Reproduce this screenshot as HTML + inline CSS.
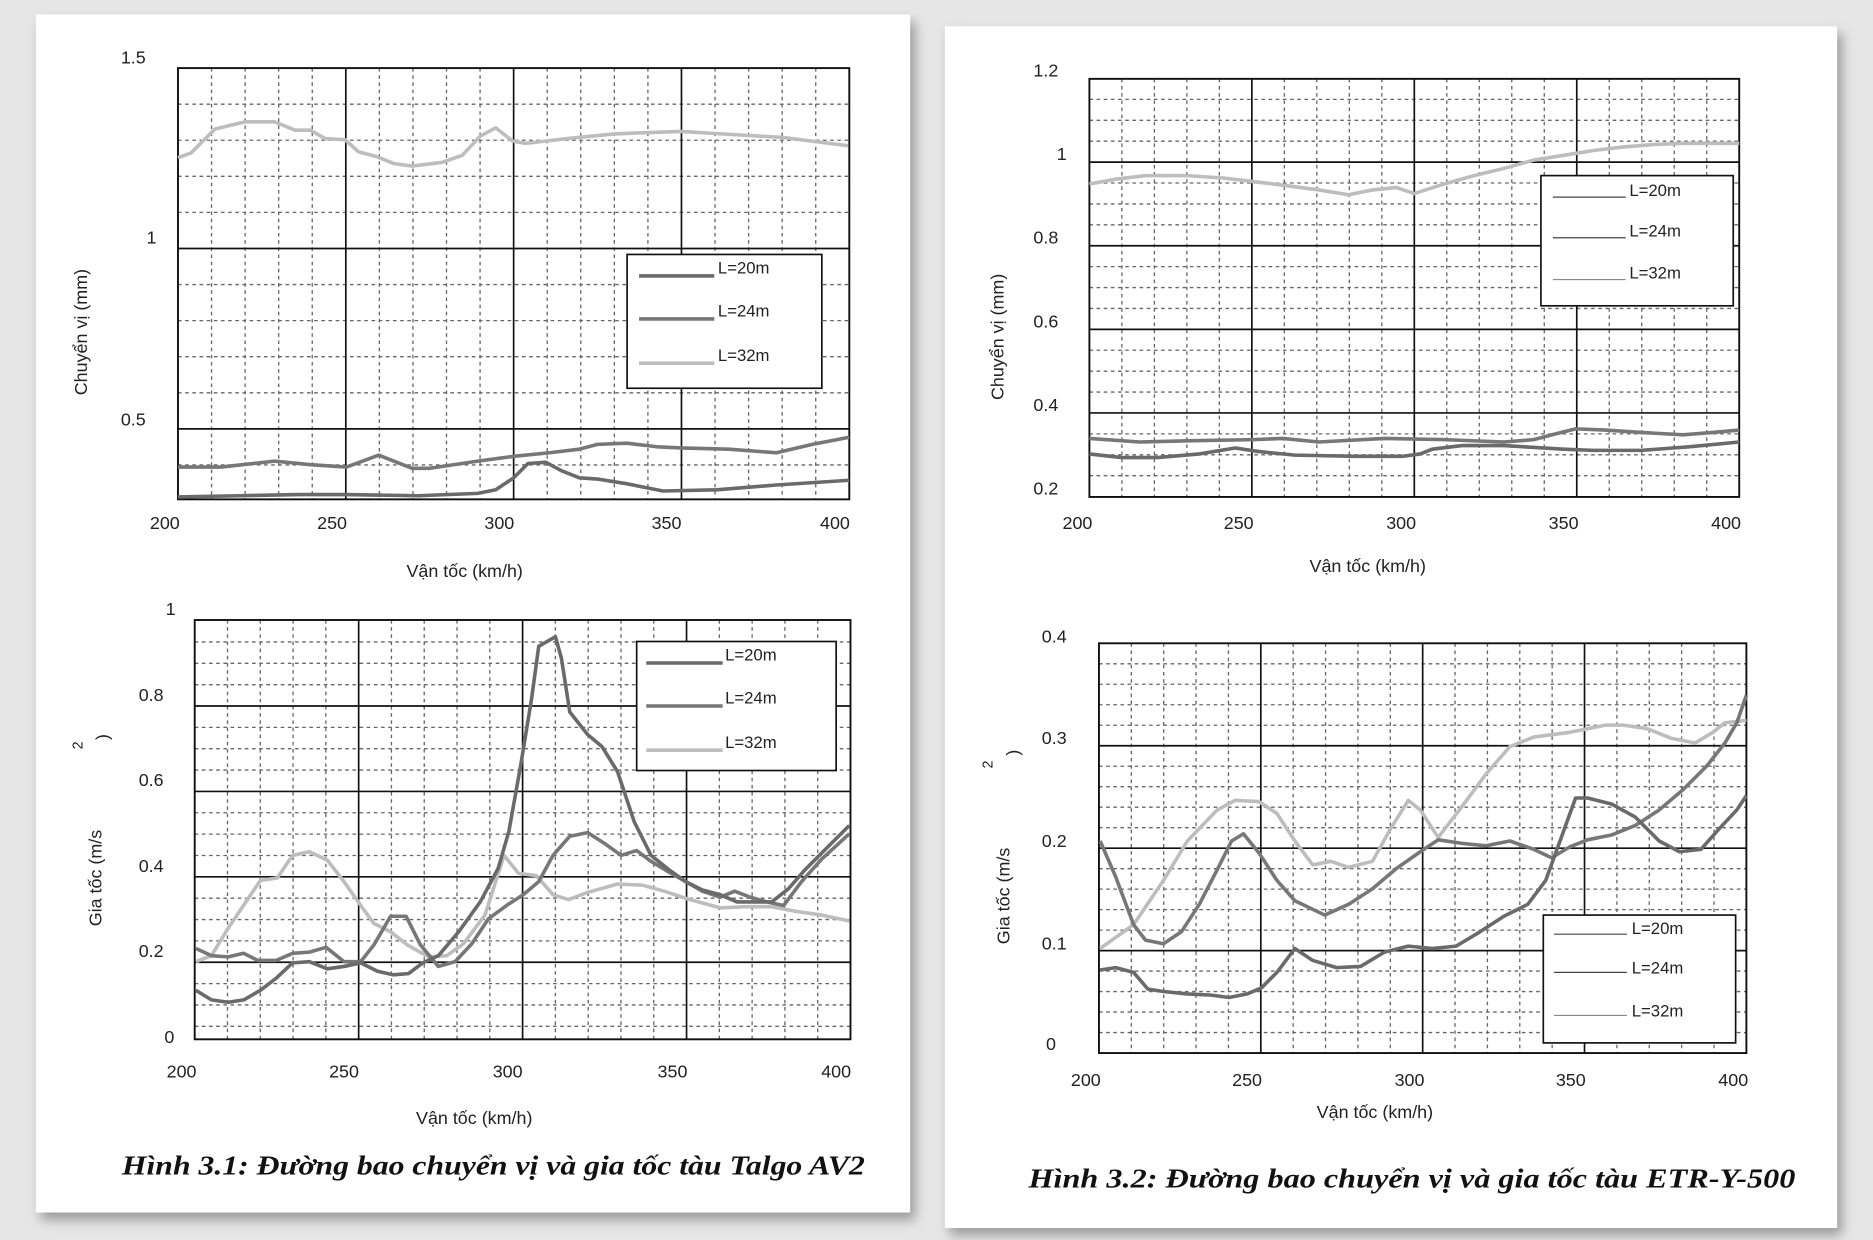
<!DOCTYPE html>
<html><head><meta charset="utf-8"><style>
html,body{margin:0;padding:0;background:#e4e4e4;}
svg{display:block;}
text{font-family:"Liberation Sans",sans-serif;fill:#222;}
.cap{font-family:"Liberation Serif",serif;font-weight:bold;font-style:italic;font-size:23px;fill:#111;}
</style></head><body>
<svg id="s" width="1873" height="1240" viewBox="0 0 1568 1038" preserveAspectRatio="none" xmlns="http://www.w3.org/2000/svg">
<defs>
<filter id="sh" x="-5%" y="-5%" width="110%" height="110%"><feGaussianBlur stdDeviation="5"/></filter>
</defs>
<rect x="0" y="0" width="1568" height="1038" fill="#e6e6e6"/>
<rect x="34" y="18" width="732" height="1003" fill="#999" filter="url(#sh)"/>
<rect x="30" y="12" width="732" height="1003" fill="#fff"/>
<rect x="795" y="28" width="747" height="1006" fill="#999" filter="url(#sh)"/>
<rect x="791" y="22" width="747" height="1006" fill="#fff"/>
<g id="g"></g>
<text class="cap" x="102" y="983" textLength="622" lengthAdjust="spacingAndGlyphs">Hình 3.1: Đường bao chuyển vị và gia tốc tàu Talgo AV2</text>
<text class="cap" x="861" y="994" textLength="642" lengthAdjust="spacingAndGlyphs">Hình 3.2: Đường bao chuyển vị và gia tốc tàu ETR-Y-500</text>
</svg>
<script>
var g=document.getElementById('g'),h='';
function L(x1,y1,x2,y2,c,w,d){h+='<line x1="'+x1+'" y1="'+y1+'" x2="'+x2+'" y2="'+y2+'" stroke="'+c+'" stroke-width="'+w+'"'+(d?' stroke-dasharray="'+d+'"':'')+'/>';}
function T(x,y,s,sz,a,extra){h+='<text x="'+x+'" y="'+y+'" font-size="'+sz+'" text-anchor="'+(a||'start')+'" '+(extra||'')+'>'+s+'</text>';}
function P(pts,c,w){h+='<polyline fill="none" stroke="'+c+'" stroke-width="'+w+'" stroke-linejoin="round" points="'+pts.map(function(p){return p.join(',')}).join(' ')+'"/>';}
function chart(o){
 var x0=o.x0,x1=o.x1,yt=o.yt,yb=o.yb;
 var xs=function(v){return x0+(v-200)/200*(x1-x0);};
 for(var v=210;v<400;v+=10){if(v%50)L(xs(v),yt,xs(v),yb,'#666',1.1,'3,3');}
 for(var i=0;i<o.minor.length;i++){var y=o.yv(o.minor[i]);L(x0,y,x1,y,'#666',1.1,'3,3');}
 for(var v=250;v<400;v+=50)L(xs(v),yt,xs(v),yb,'#111',1.4);
 for(var i=0;i<o.major.length;i++){var y=o.yv(o.major[i]);L(x0,y,x1,y,'#111',1.4);}
 h+='<rect x="'+x0+'" y="'+yt+'" width="'+(x1-x0)+'" height="'+(yb-yt)+'" fill="none" stroke="#111" stroke-width="1.6"/>';
}
// chart 1
var y1=function(v){return 208-(v-1)*302;};
var mn=[],mj=[0.5,1.0];
for(var v=0.4;v<1.45;v+=0.1){var r=Math.round(v*10)/10;if(r!=0.5&&r!=1)mn.push(r);}
chart({x0:149,x1:711,yt:57,yb:418,yv:y1,minor:mn,major:mj});
P([[149,132],[160,128],[180,108],[205,102],[230,102],[247,109],[260,109],[272,116],[289,117],[300,127],[315,131],[330,137],[345,139],[370,136],[387,130],[402,114],[415,107],[429,118],[440,120],[475,116],[515,112],[570,110],[620,113],[655,115],[710,122]],'#bdbdbd',3);
P([[149,391],[185,391],[230,386],[260,389],[290,391],[317,381],[345,392],[360,392],[400,386],[430,382],[460,379],[485,376],[500,372],[525,371],[550,374],[570,375],[610,376],[650,379],[680,372],[711,366]],'#777',3);
P([[149,416],[200,415],[250,414],[290,414],[350,415],[400,413],[415,410],[430,400],[442,388],[457,387],[470,394],[485,400],[500,401],[525,405],[555,411],[600,410],[650,406],[711,402]],'#6a6a6a',3);
h+='<rect x="525" y="213" width="163" height="112" fill="#fff" stroke="#111" stroke-width="1.4"/>';
L(535,231,598,231,'#6a6a6a',3);L(535,267,598,267,'#777',3);L(535,304,598,304,'#bdbdbd',3);
T(601,229,'L=20m',14);T(601,265,'L=24m',14);T(601,302,'L=32m',14);
T(122,53,'1.5',15,'end');T(131,204,'1',15,'end');T(122,356,'0.5',15,'end');
[[138,200],[278,250],[418,300],[558,350],[699,400]].forEach(function(a){T(a[0],443,a[1],15,'middle');});
T(389,483,'Vận tốc (km/h)',15,'middle');
T(0,0,'Chuyển vị (mm)',15,'middle','transform="translate(73,278) rotate(-90)"');
// chart 2
var y2=function(v){return 877-357.5*v;};
mn=[];for(var i=1;i<20;i++){if(i%4)mn.push(i*0.05);}
chart({x0:163,x1:712,yt:519,yb:870,yv:y2,minor:mn,major:[0.2,0.4,0.6,0.8]});
P([[164,805],[177,800],[191,777],[218,737],[232,735],[245,716],[259,713],[274,720],[288,738],[302,758],[313,773],[327,780],[341,791],[359,801],[374,800],[388,790],[406,766],[422,716],[434,731],[449,733],[463,749],[476,753],[492,747],[517,740],[538,741],[556,746],[574,752],[603,760],[624,759],[646,759],[667,763],[688,766],[711,771]],'#bdbdbd',3);
P([[164,794],[177,800],[191,801],[204,798],[216,804],[231,804],[245,798],[259,797],[273,793],[288,805],[302,805],[313,791],[327,767],[340,767],[352,791],[367,809],[381,805],[395,790],[409,769],[424,758],[438,749],[451,738],[463,716],[477,700],[492,697],[506,706],[520,716],[533,712],[545,721],[560,730],[574,738],[588,746],[603,751],[615,746],[628,751],[642,755],[656,758],[671,738],[688,719],[711,698]],'#777',3);
P([[164,829],[177,837],[191,839],[204,837],[218,829],[231,819],[245,806],[259,805],[274,811],[288,809],[302,806],[316,813],[329,816],[342,815],[354,806],[367,800],[384,780],[402,755],[417,727],[426,696],[436,640],[445,585],[451,541],[465,533],[470,551],[477,596],[492,615],[504,625],[517,646],[531,688],[545,716],[560,728],[574,738],[588,745],[603,749],[617,755],[631,755],[646,755],[660,744],[674,728],[692,710],[711,691]],'#6a6a6a',3);
h+='<rect x="533" y="537" width="167" height="108" fill="#fff" stroke="#111" stroke-width="1.4"/>';
L(541,555,605,555,'#6a6a6a',3);L(541,591,605,591,'#777',3);L(541,628,605,628,'#bdbdbd',3);
T(607,553,'L=20m',14);T(607,589,'L=24m',14);T(607,626,'L=32m',14);
T(147,515,'1',15,'end');T(137,587,'0.8',15,'end');T(137,658,'0.6',15,'end');T(137,730,'0.4',15,'end');T(137,801,'0.2',15,'end');T(146,873,'0',15,'end');
[[152,200],[288,250],[425,300],[563,350],[700,400]].forEach(function(a){T(a[0],902,a[1],15,'middle');});
T(397,941,'Vận tốc (km/h)',15,'middle');
T(0,0,'Gia tốc (m/s',15,'middle','transform="translate(85,735) rotate(-90)"');
T(0,0,'2',12,'middle','transform="translate(69,624) rotate(-90)"');
T(0,0,')',15,'middle','transform="translate(91,617) rotate(-90)"');
// chart 3
var y3=function(v){return 485.7-350*v;};
mn=[];for(var i=5;i<24;i++){if(i%4)mn.push(i*0.05);}
chart({x0:912,x1:1456,yt:66,yb:416,yv:y3,minor:mn,major:[0.4,0.6,0.8,1.0]});
P([[912,154],[934,150],[959,147],[994,147],[1024,149],[1049,152],[1074,155],[1104,159],[1129,163],[1149,159],[1169,157],[1184,162],[1209,154],[1234,147],[1259,141],[1284,134],[1309,130],[1334,126],[1359,123],[1384,121],[1409,120],[1456,120]],'#bdbdbd',3);
P([[912,367],[954,370],[994,369],[1049,368],[1074,367],[1104,370],[1159,367],[1209,368],[1259,370],[1284,368],[1299,364],[1319,359],[1344,360],[1374,362],[1409,364],[1434,362],[1456,360]],'#777',3);
P([[912,380],[939,383],[969,383],[1004,380],[1034,375],[1054,378],[1084,381],[1134,382],[1174,382],[1189,380],[1199,376],[1224,373],[1259,373],[1309,376],[1334,377],[1374,377],[1414,374],[1456,370]],'#6a6a6a',3);
h+='<rect x="1290" y="147" width="161" height="109" fill="#fff" stroke="#111" stroke-width="1.4"/>';
L(1300,165,1361,165,'#444',1);L(1300,199,1361,199,'#444',1);L(1300,234,1361,234,'#888',1);
T(1364,164,'L=20m',14);T(1364,198,'L=24m',14);T(1364,233,'L=32m',14);
[[886,64,'1.2'],[893,134,'1'],[886,204,'0.8'],[886,274,'0.6'],[886,344,'0.4'],[886,414,'0.2']].forEach(function(a){T(a[0],a[1],a[2],15,'end');});
[[902,200],[1037,250],[1173,300],[1309,350],[1445,400]].forEach(function(a){T(a[0],443,a[1],15,'middle');});
T(1145,479,'Vận tốc (km/h)',15,'middle');
T(0,0,'Chuyển vị (mm)',15,'middle','transform="translate(840,282) rotate(-90)"');
// chart 4
var y4=function(v){return 881.5-857.5*v;};
mn=[];for(var i=1;i<20;i++){if(i%5)mn.push(i*0.02);}
chart({x0:920,x1:1462,yt:538.5,yb:881.5,yv:y4,minor:mn,major:[0.1,0.2,0.3]});
P([[921,794],[949,774],[974,737],[994,704],[1019,678],[1034,670],[1054,671],[1069,681],[1084,704],[1099,724],[1114,721],[1129,726],[1149,721],[1164,694],[1179,670],[1189,678],[1204,701],[1224,675],[1244,648],[1264,625],[1284,617],[1299,615],[1314,613],[1329,610],[1344,607],[1359,607],[1379,610],[1399,618],[1419,622],[1434,613],[1444,605],[1462,603]],'#bdbdbd',3);
P([[921,704],[934,734],[949,774],[959,787],[974,790],[989,780],[1004,757],[1019,728],[1031,704],[1041,698],[1054,714],[1069,737],[1084,754],[1109,766],[1129,757],[1149,744],[1169,727],[1189,713],[1204,703],[1224,706],[1244,708],[1264,704],[1284,711],[1299,718],[1314,709],[1329,703],[1349,699],[1369,691],[1389,678],[1409,661],[1429,641],[1444,622],[1454,605],[1462,582]],'#777',3);
P([[921,812],[934,810],[949,814],[961,828],[974,830],[994,832],[1014,833],[1029,835],[1044,832],[1056,827],[1069,814],[1084,794],[1099,804],[1119,810],[1139,809],[1159,797],[1179,792],[1199,794],[1219,792],[1239,780],[1259,767],[1279,757],[1294,737],[1306,704],[1319,668],[1329,668],[1349,673],[1369,684],[1389,704],[1406,713],[1424,711],[1439,694],[1454,678],[1462,666]],'#6a6a6a',3);
h+='<rect x="1292" y="766" width="161" height="107" fill="#fff" stroke="#111" stroke-width="1.4"/>';
L(1301,782,1362,782,'#444',1);L(1301,814,1362,814,'#444',1);L(1301,850,1362,850,'#888',1);
T(1366,782,'L=20m',14);T(1366,815,'L=24m',14);T(1366,851,'L=32m',14);
[[893,538,'0.4'],[893,623,'0.3'],[893,709,'0.2'],[893,795,'0.1'],[884,879,'0']].forEach(function(a){T(a[0],a[1],a[2],15,'end');});
[[909,200],[1044,250],[1180,300],[1315,350],[1451,400]].forEach(function(a){T(a[0],909,a[1],15,'middle');});
T(1151,936,'Vận tốc (km/h)',15,'middle');
T(0,0,'Gia tốc (m/s',15,'middle','transform="translate(845,750) rotate(-90)"');
T(0,0,'2',12,'middle','transform="translate(831,640) rotate(-90)"');
T(0,0,')',15,'middle','transform="translate(853,630) rotate(-90)"');
g.innerHTML=h;
</script>
</body></html>
